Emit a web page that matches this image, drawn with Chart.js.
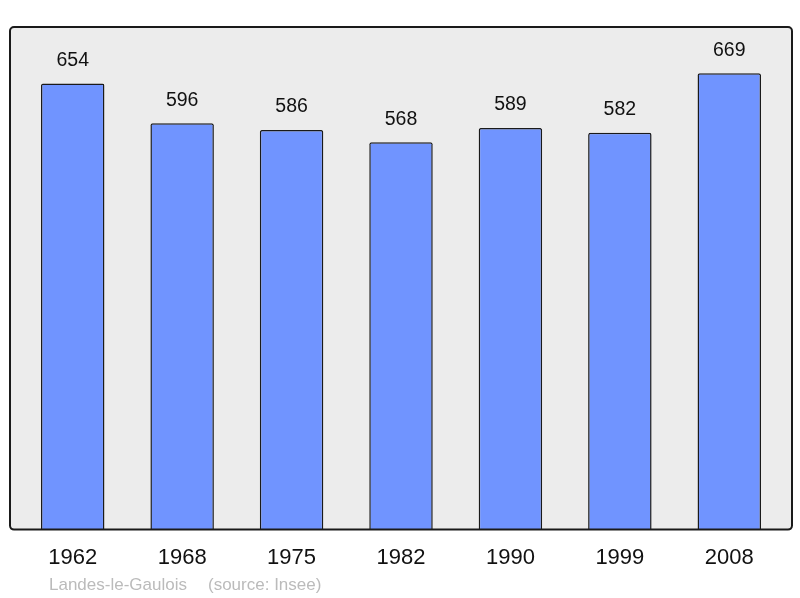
<!DOCTYPE html>
<html>
<head>
<meta charset="utf-8">
<script src="https://cdn.jsdelivr.net/npm/chart.js@4"></script>
<style>
    html, body { margin: 0; padding: 0; background: #ffffff; }
    #wrap { width: 800px; height: 598px; position: relative; }
</style>
</head>
<body>
<div id="wrap"><canvas id="chart"></canvas></div>
<script>
const annees = ['1962', '1968', '1975', '1982', '1990', '1999', '2008'];
const population = [654, 596, 586, 568, 589, 582, 669];
const commune = 'Landes-le-Gaulois';
const source = '(source: Insee)';

// cadre gris arrondi autour de la zone du graphique
const fondCadre = {
    id: 'fondCadre',
    beforeDraw(chart) {
        const { ctx, chartArea } = chart;
        const x = chartArea.left - 8;
        const y = chartArea.top;
        const w = chartArea.right - chartArea.left + 16;
        const h = chartArea.bottom - chartArea.top;
        ctx.save();
        ctx.beginPath();
        ctx.roundRect(x, y, w, h, 4);
        ctx.fillStyle = '#ececec';
        ctx.fill();
        ctx.restore();
    },
    afterDatasetsDraw(chart) {
        const { ctx, chartArea } = chart;
        const x = chartArea.left - 8;
        const y = chartArea.top;
        const w = chartArea.right - chartArea.left + 16;
        const h = chartArea.bottom - chartArea.top;
        ctx.save();
        ctx.beginPath();
        ctx.roundRect(x, y, w, h, 4);
        ctx.lineWidth = 2;
        ctx.strokeStyle = '#1a1a1a';
        ctx.stroke();

        // légende du bas
        ctx.fillStyle = '#bbbbbb';
        ctx.font = '17px "Liberation Sans", Arial, sans-serif';
        ctx.textAlign = 'left';
        ctx.textBaseline = 'middle';
        ctx.fillText(commune, 49, 585);
        ctx.fillText(source, 208, 585);
        ctx.restore();
    }
};

// valeurs au-dessus des barres
const valeursBarres = {
    id: 'valeursBarres',
    afterDatasetsDraw(chart) {
        const { ctx } = chart;
        const meta = chart.getDatasetMeta(0);
        ctx.save();
        ctx.fillStyle = '#111111';
        ctx.font = '19.5px "Liberation Sans", Arial, sans-serif';
        ctx.textAlign = 'center';
        ctx.textBaseline = 'middle';
        meta.data.forEach((bar, i) => {
            ctx.fillText(String(population[i]), bar.x, bar.y - 23);
        });
        ctx.restore();
    }
};

new Chart(document.getElementById('chart'), {
    type: 'bar',
    data: {
        labels: annees,
        datasets: [{
            data: population,
            backgroundColor: '#7094ff',
            borderColor: '#1a1a1a',
            borderWidth: 1.5,
            borderRadius: 2,
            borderSkipped: 'bottom',
            barPercentage: 0.58,
            categoryPercentage: 1
        }]
    },
    options: {
        responsive: true,
        maintainAspectRatio: false,
        animation: false,
        layout: {
            padding: { left: 18, right: 16, top: 27, bottom: 12 }
        },
        plugins: {
            legend: { display: false },
            tooltip: { enabled: false }
        },
        scales: {
            x: {
                grid: { display: false, drawTicks: false },
                border: { display: false },
                ticks: {
                    color: '#111111',
                    font: { size: 22, family: '"Liberation Sans", Arial, sans-serif' },
                    padding: 15
                }
            },
            y: {
                display: false,
                min: 0,
                max: 737
            }
        }
    },
    plugins: [fondCadre, valeursBarres]
});
</script>
</body>
</html>
